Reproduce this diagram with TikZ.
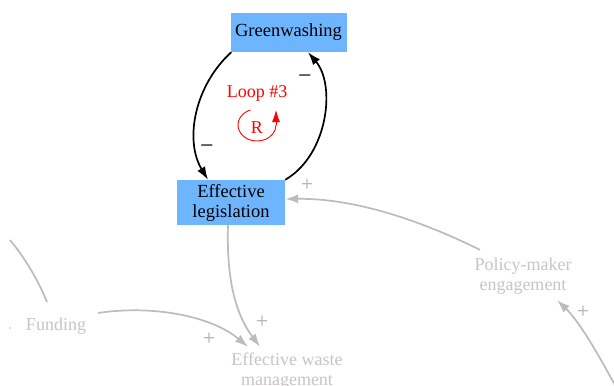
\documentclass[tikz,border=0pt]{standalone}
\usepackage{fontspec}
\setmainfont{Liberation Serif}
\usetikzlibrary{arrows.meta}
\definecolor{boxblue}{RGB}{110,181,255}
\definecolor{lngray}{RGB}{188,188,188}
\definecolor{txtgray}{RGB}{202,196,196}
\definecolor{plgray}{RGB}{175,175,175}
\begin{document}
\begin{tikzpicture}[x=1pt,y=-1pt,
  var/.style={fill=boxblue, text=black, font=\fontsize{18.5}{20}\selectfont, align=center, inner sep=0pt},
  ghost/.style={text=txtgray, font=\fontsize{18}{19.5}\selectfont, align=center, inner sep=0pt},
  blk/.style={draw=black, line width=1.7pt, -{Latex[length=13pt,width=9pt]}},
  gry/.style={draw=lngray, line width=1.7pt, -{Latex[length=13pt,width=9pt]}},
  gryline/.style={draw=lngray, line width=1.7pt},
  minus/.style={font=\fontsize{24}{24}\selectfont, text=black, inner sep=0pt},
  plus/.style={font=\fontsize{22}{22}\selectfont, text=plgray, inner sep=0pt},
  loopred/.style={text=red, font=\fontsize{18}{19}\selectfont, inner sep=0pt}
]
\useasboundingbox (0,0) rectangle (614,386);
\fill[white] (0,0) rectangle (614,386);

% nodes
\node[var, minimum width=116, minimum height=39] (gw) at (288.5,32.5) {Greenwashing};
\node[var, minimum width=108, minimum height=45] (el) at (231,202.5) {Effective\\legislation};
\node[ghost] (pm) at (523,276) {Policy-maker\\engagement};
\node[ghost] (fu) at (56,326) {Funding};
\node[ghost] (ew) at (287,371) {Effective waste\\management};
\fill[txtgray] (10,328) circle (0.9);

% coordinates for free ends
\coordinate (br) at (616,387);
\coordinate (lt1) at (10,240);
\coordinate (lt2) at (47,302);

% black loop
\draw[blk] ([xshift=1pt]gw.south west) .. controls (195,85) and (184,140) .. ([xshift=-23pt]el.north);
\draw[blk] (el.north east) .. controls (328,155) and (336,85) .. ([xshift=19.5pt]gw.south);
\node[minus] (m1) at (207,149) {−};
\node[minus] (m2) at (305,79) {−};

% loop marker
\node[loopred] (lp) at (257,93) {Loop \#3};
\node[loopred] (lr) at (257,128) {R};
\draw[red, line width=0.9pt] (257,125) ++(110:19 and -16) arc[start angle=-110, end angle=-360, x radius=19, y radius=16]
  coordinate (lend);
\draw[red, line width=0.9pt, -{Latex[length=12pt,width=8pt]}] (lend) -- ++(0,-15);

% gray arrows
\draw[gry] ([shift={(-43,-8)}]pm.north) .. controls (430,225) and (360,198) .. ([shift={(0,-3.5)}]el.east);
\draw[gry] ([xshift=-3pt]el.south) .. controls (226,290) and (240,320) .. ([shift={(-27,-6)}]ew.north);
\draw[gry] ([shift={(12,-13)}]fu.east) .. controls (150,305) and (210,315) .. ([shift={(-39,-6)}]ew.north);
\draw[gry] (br) .. controls (596,350) and (578,320) .. ([shift={(34,6)}]pm.south);
\draw[gryline] (lt1) .. controls (25,258) and (38,280) .. (lt2);

% polarity signs
\node[plus] (p1) at (307,185) {+};
\node[plus] (p2) at (262,322) {+};
\node[plus] (p3) at (209,339) {+};
\node[plus] (p4) at (583,312) {+};
\end{tikzpicture}
\end{document}
